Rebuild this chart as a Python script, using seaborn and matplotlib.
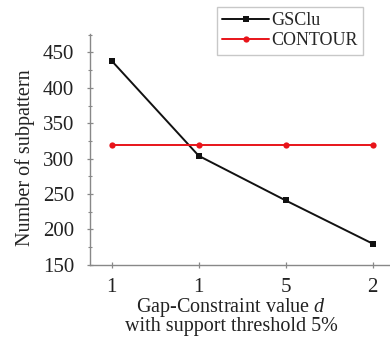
import matplotlib
matplotlib.use("Agg")
import matplotlib.pyplot as plt
import seaborn as sns
import pandas as pd
from matplotlib.ticker import MultipleLocator

sns.set_style("white")
plt.rcParams["font.family"] = ["Liberation Serif", "DejaVu Serif"]
plt.rcParams["mathtext.fontset"] = "custom"
plt.rcParams["mathtext.it"] = "Liberation Serif:italic"
plt.rcParams["mathtext.rm"] = "Liberation Serif"

# Gap-constraint settings along the x axis
x_labels = ["1", "1", "5", "2"]
gsclu = [438, 304, 241, 180]
contour = [320, 320, 320, 320]

df = pd.DataFrame({
    "pos": list(range(len(x_labels))) * 2,
    "value": gsclu + contour,
    "method": ["GSClu"] * len(gsclu) + ["CONTOUR"] * len(contour),
})

fig = plt.figure(figsize=(3.9, 3.37), dpi=100)
ax = fig.add_axes([0.231, 0.214, 0.769, 0.685])

sns.lineplot(data=df, x="pos", y="value", hue="method", style="method",
             palette={"GSClu": "#111111", "CONTOUR": "#e8141a"},
             markers={"GSClu": "s", "CONTOUR": "o"},
             dashes=False, markersize=4.5, linewidth=1.4,
             markeredgewidth=0, ax=ax)

ax.set_xlim(-0.25, 3.2)
ax.set_ylim(150, 476)
ax.set_xticks(range(len(x_labels)))
ax.set_xticklabels(x_labels)
ax.set_yticks([150, 200, 250, 300, 350, 400, 450])
ax.yaxis.set_minor_locator(MultipleLocator(25))

for side in ["top", "right"]:
    ax.spines[side].set_visible(False)
for side in ["left", "bottom"]:
    ax.spines[side].set_color("#888888")
    ax.spines[side].set_linewidth(1.0)

ax.tick_params(axis="both", which="major", direction="inout", length=5,
               width=0.9, color="#888888", labelsize=15, labelcolor="#222222",
               left=True, bottom=True)
ax.tick_params(axis="y", which="minor", direction="inout", length=3,
               width=0.8, color="#888888", left=True)
ax.tick_params(axis="x", pad=7)
ax.tick_params(axis="y", pad=9)

ax.set_xlabel("Gap-Constraint value $\\mathit{d}$\nwith support threshold 5%",
              fontsize=14.5, color="#222222", linespacing=0.85)
ax.xaxis.set_label_coords(0.47, -0.135)
ax.set_ylabel("Number of subpattern", fontsize=14.5, color="#222222")
ax.yaxis.set_label_coords(-0.185, 0.463)

leg = ax.legend(loc="upper left", fontsize=13,
                frameon=True, fancybox=False, edgecolor="#bbbbbb",
                handlelength=2.6, handletextpad=0.1, borderpad=0.3,
                labelspacing=0.15, borderaxespad=0)
leg.get_frame().set_linewidth(1.0)
leg.set_bbox_to_anchor((217 / 390, 1 - 7 / 337), transform=fig.transFigure)

fig.savefig("out.png", dpi=100)
